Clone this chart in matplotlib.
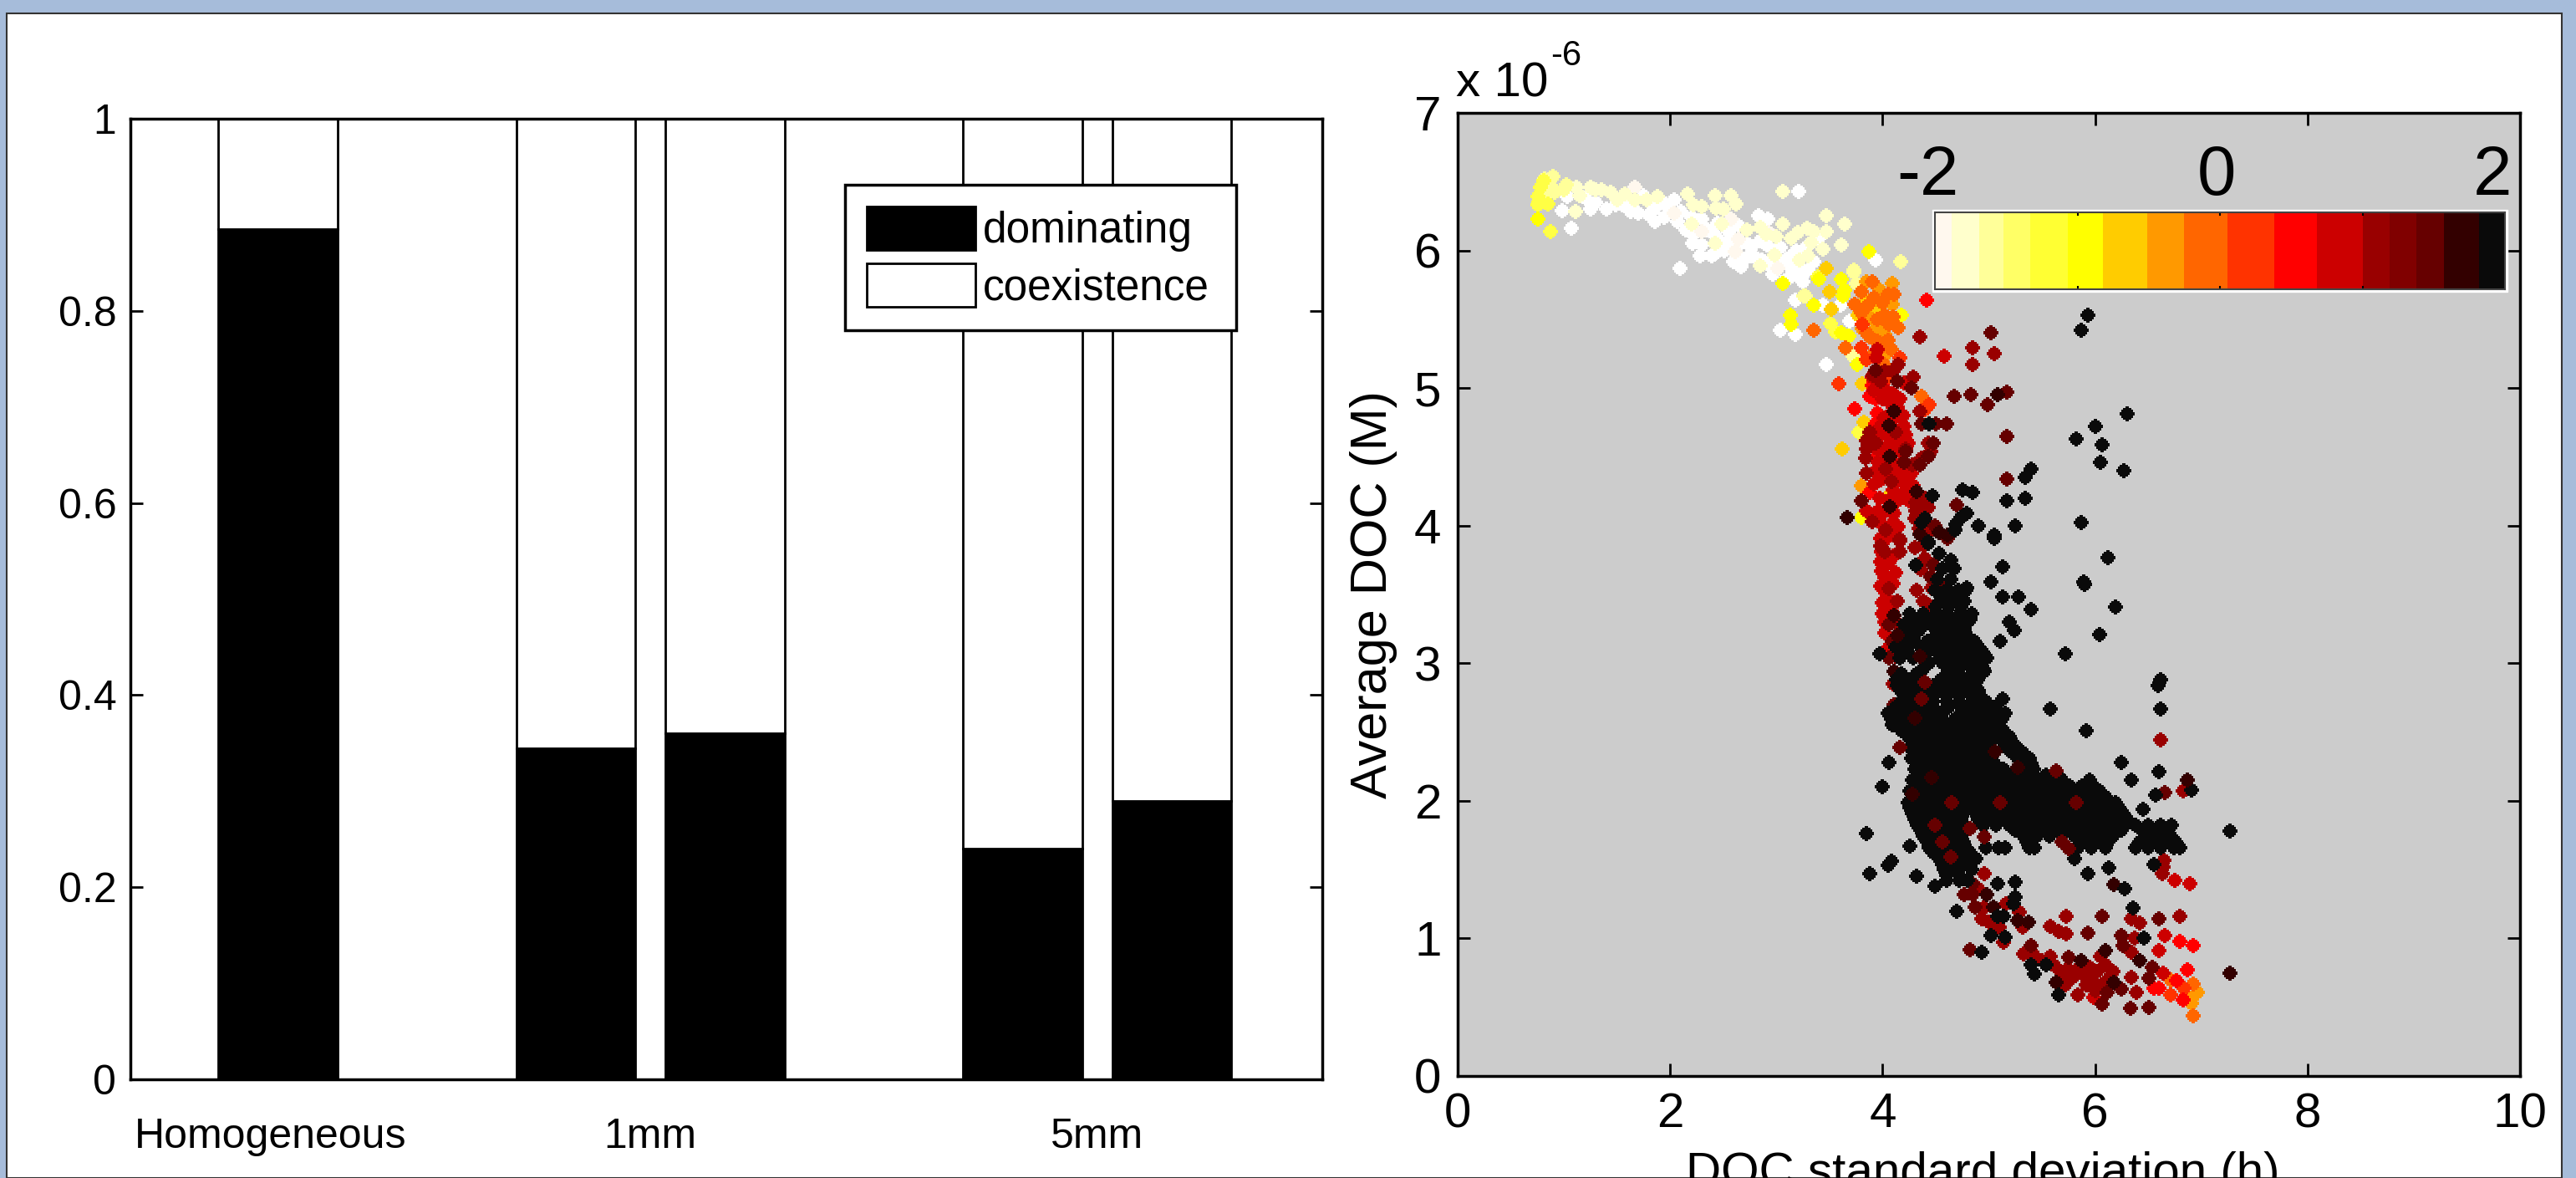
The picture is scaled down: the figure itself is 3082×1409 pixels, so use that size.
import numpy as np
import matplotlib
matplotlib.use("Agg")
import matplotlib.pyplot as plt
from matplotlib.colors import ListedColormap
from matplotlib.patches import Rectangle

# left panel
bar_x = [1, 3, 4, 6, 7]
dominating = [0.885, 0.345, 0.36, 0.24, 0.29]
coexistence = [0.115, 0.655, 0.64, 0.76, 0.71]
group_x = [0.95, 3.5, 6.5]
group_labels = ["Homogeneous", "1mm", "5mm"]
left_yticks = [0, 0.2, 0.4, 0.6, 0.8, 1]
left_yticklabels = ["0", "0.2", "0.4", "0.6", "0.8", "1"]

# colour scale
levels = [-2, -1.88, -1.69, -1.52, -1.33, -1.07, -0.82, -0.51, -0.25, 0.05, 0.38,
          0.68, 1, 1.19, 1.38, 1.57, 1.82, 2]
level_colors = ["#FFF8EE", "#FFFFCC", "#FFFF99", "#FFFF66", "#FFFF33", "#FFFF00", "#FFCC00",
                "#FF9900", "#FF6600", "#FF3300", "#FF0000", "#CC0000", "#990000", "#800000",
                "#660000", "#330000", "#0A0A0A"]

# scatter points (std dev, mean * 1e6), one list per colour
white_pts = [(3.21, 6.43), (.98, 6.29), (1.25, 6.30), (1.07, 6.16), (1.03, 6.39), (1.20, 6.38),
             (1.49, 6.33), (1.70, 6.27), (1.75, 6.40), (1.86, 6.21), (2.04, 6.37), (2.07, 6.21),
             (2.20, 6.24), (2.30, 6.23), (2.22, 6.12), (2.21, 6.05), (2.28, 5.96), (2.39, 5.96),
             (2.09, 5.87), (2.43, 6.10), (2.54, 6.06), (2.51, 6.0), (2.83, 6.25), (2.92, 6.23),
             (2.77, 6.03), (2.91, 6.04), (3.04, 6.02), (3.19, 6.0), (2.67, 5.88), (2.97, 5.83),
             (3.14, 5.87), (3.25, 5.83), (2.96, 5.93), (3.40, 6.09), (3.93, 5.93), (3.18, 5.64),
             (3.44, 5.60), (3.60, 5.60), (3.04, 5.42), (3.18, 5.39), (3.47, 5.17), (3.69, 5.49),
             (3.25, 5.77), (1.96, 6.34), (1.80, 6.26), (2.64, 6.18), (2.75, 5.96), (3.09, 5.93),
             (1.63, 6.28), (1.94, 6.24), (2.35, 6.15), (2.63, 6.03), (2.86, 5.93), (3.08, 5.78),
             (1.30, 6.35), (1.40, 6.30), (1.55, 6.33), (1.60, 6.37), (1.85, 6.30), (2.00, 6.30),
             (2.10, 6.28), (2.15, 6.15), (2.30, 6.04), (2.42, 5.98), (2.45, 6.20), (2.55, 6.14),
             (2.60, 5.92), (2.72, 5.95), (2.80, 5.95), (2.85, 6.07), (2.95, 5.88), (3.05, 5.90),
             (3.00, 5.95), (3.12, 5.95), (3.20, 5.88), (3.12, 5.80), (3.20, 5.82), (3.30, 5.86),
             (3.35, 5.92), (3.28, 6.02), (2.72, 6.05)]
offwhite_pts = [(1.67, 6.46), (2.04, 6.27), (2.30, 6.14), (2.57, 6.23), (2.64, 6.08), (2.93, 6.13),
                (3.01, 5.87), (2.61, 5.99)]
cream_pts = [(1.12, 6.46), (1.25, 6.46), (1.35, 6.44), (1.44, 6.42), (1.57, 6.41), (1.67, 6.37),
             (1.88, 6.39), (2.16, 6.41), (2.42, 6.40), (2.57, 6.40), (2.62, 6.34), (2.43, 6.31),
             (2.22, 6.33), (3.06, 6.43), (1.11, 6.28), (3.47, 6.25), (3.64, 6.19), (3.47, 6.14),
             (3.29, 6.16), (3.61, 6.04), (3.44, 6.01), (3.33, 6.06), (3.14, 6.09), (3.06, 6.19),
             (2.72, 6.15), (2.85, 6.17), (2.85, 5.89), (3.30, 5.96), (3.22, 5.93), (2.98, 5.97),
             (2.42, 6.05), (2.49, 6.19), (2.20, 6.19), (4.17, 5.92), (1.15, 6.40), (1.30, 6.44),
             (1.50, 6.37), (1.78, 6.37), (2.30, 6.32), (2.50, 6.30), (2.90, 6.12), (3.00, 6.10),
             (3.20, 6.13), (3.35, 6.14)]
pale_pts = [(.90, 6.54), (.82, 6.52), (.87, 6.47), (1.02, 6.48), (.91, 6.42), (3.73, 5.84),
            (3.72, 5.23), (3.27, 5.67), (3.73, 5.86), (3.75, 5.76), (3.26, 5.67), (4.17, 5.92),
            (1.00, 6.44), (.85, 6.42)]
soft_yellow_pts = [(.755, 6.39), (.76, 6.35), (.78, 6.46), (.81, 6.51), (.755, 6.33), (.87, 6.14),
                   (3.39, 5.81), (3.51, 5.47), (3.56, 5.41), (3.78, 4.68), (.85, 6.34)]
yellow_pts = [(.755, 6.23), (3.87, 5.99), (3.06, 5.76), (3.35, 5.60), (4.18, 5.53), (3.13, 5.53),
              (3.14, 5.46), (3.64, 5.71), (3.61, 5.79), (3.61, 5.40), (3.68, 5.38), (3.76, 5.17),
              (3.40, 5.79), (3.80, 4.06), (3.95, 5.62), (3.63, 5.67)]
amber_pts = [(3.47, 5.87), (3.50, 5.70), (3.52, 5.57), (3.84, 5.64), (3.77, 5.53), (3.93, 5.59),
             (3.81, 5.03), (3.82, 4.75), (3.62, 4.56), (4.03, 4.20)]
orange_pts = [(3.85, 5.77), (4.09, 5.76), (3.97, 5.71), (4.09, 5.61), (3.88, 5.51), (3.94, 5.44),
              (4.02, 5.39), (4.02, 5.24), (3.81, 5.43), (3.80, 4.29), (6.92, .58), (6.91, .53),
              (6.96, .61)]
dark_orange_pts = [(3.90, 5.77), (3.74, 5.61), (4.11, 5.68), (4.02, 5.53), (4.15, 5.44), (3.88, 5.37),
                   (4.05, 5.35), (3.65, 5.29), (3.35, 5.42), (4.37, 4.94), (4.01, 5.17), (3.95, 5.34),
                   (6.71, .70), (6.92, .67), (6.92, .44), (3.80, 5.70), (3.92, 5.66), (4.05, 5.68),
                   (3.86, 5.60), (4.00, 5.62), (3.80, 5.55), (3.95, 5.50), (4.06, 5.46), (3.85, 5.40),
                   (3.98, 5.30), (4.08, 5.28), (3.90, 5.24), (4.10, 5.52)]
red_orange_pts = [(3.81, 5.46), (3.80, 5.29), (3.85, 5.21), (4.44, 4.88), (3.59, 5.03), (4.06, 5.08),
                  (4.40, 4.84), (4.16, 5.22), (6.84, .64), (6.71, .59)]
red_pts = [(4.41, 5.64), (4.01, 5.00), (3.74, 4.85), (3.88, 4.94), (3.95, 4.82), (3.93, 4.74),
           (3.95, 4.50), (3.88, 4.24), (3.93, 4.92), (3.90, 5.02), (6.60, .64), (6.77, .69),
           (6.83, .55), (6.80, .98), (6.92, .95), (6.87, .77), (6.55, .64)]
crimson_pts = [(3.95, 5.28), (3.94, 5.22), (4.58, 5.23), (3.90, 5.08), (4.16, 4.92), (4.20, 5.04),
               (4.19, 4.80), (4.01, 4.78), (4.16, 4.70), (4.03, 4.66), (4.22, 4.66), (4.06, 4.58),
               (4.16, 4.54), (3.95, 4.56), (4.27, 4.38), (3.98, 4.33), (4.19, 4.32), (4.29, 4.29),
               (4.11, 4.09), (4.15, 3.99), (3.98, 3.91), (4.03, 4.38), (3.85, 4.11), (4.06, 4.46),
               (3.95, 4.64), (4.11, 4.62), (4.01, 3.89), (3.99, 3.81), (4.06, 3.73), (3.99, 3.67),
               (4.05, 3.59), (4.03, 3.51), (4.06, 3.45), (4.02, 3.22), (4.08, 4.88), (4.03, 4.98),
               (4.12, 4.79), (3.97, 4.20), (4.08, 4.20), (6.66, 1.02), (6.60, .91), (6.64, .75),
               (6.75, 1.42), (6.89, 1.40), (5.99, .57), (3.92, 4.98), (4.00, 4.92), (4.10, 4.96),
               (4.14, 4.86), (4.06, 4.80), (3.98, 4.72), (4.08, 4.70), (4.20, 4.72), (4.24, 4.60),
               (4.14, 4.60), (4.02, 4.54), (4.10, 4.46), (3.96, 4.46), (4.18, 4.44), (4.24, 4.38),
               (4.12, 4.36), (3.94, 4.40), (4.10, 4.26), (4.20, 4.24), (4.25, 4.18), (3.92, 4.30),
               (4.14, 4.18), (3.95, 4.10), (4.02, 4.10), (4.10, 4.02), (3.98, 4.02), (4.08, 3.94),
               (4.02, 3.80), (4.10, 3.78), (3.98, 3.74), (4.02, 3.62), (4.12, 3.66), (3.98, 3.56),
               (4.10, 3.58), (4.00, 3.44), (4.08, 3.38), (4.00, 3.36), (4.02, 3.30), (4.06, 3.12)]
dark_red_pts = [(4.15, 5.17), (4.35, 5.37), (4.85, 5.29), (5.05, 5.25), (4.85, 5.17), (3.85, 4.62),
                (4.29, 5.08), (3.91, 5.09), (3.85, 4.56), (3.84, 4.49), (4.43, 4.60), (4.45, 4.54),
                (4.22, 4.56), (4.03, 4.41), (3.85, 4.38), (4.12, 4.68), (4.28, 4.44), (3.93, 4.60),
                (4.08, 4.32), (3.90, 4.03), (4.31, 4.17), (4.31, 4.11), (4.03, 3.97), (3.98, 3.85),
                (4.16, 3.89), (4.43, 4.13), (4.35, 4.83), (4.37, 4.49), (4.16, 3.90), (4.02, 3.81),
                (4.16, 3.81), (4.40, 3.76), (4.32, 3.53), (4.06, 3.54), (4.14, 3.45), (6.62, 2.44),
                (4.96, 1.47), (5.73, 1.16), (6.34, 1.14), (6.42, 1.11), (6.80, 1.16), (6.65, 1.57),
                (6.64, 1.52), (6.63, 1.47), (6.83, 2.07), (5.58, 1.09), (5.66, 1.05), (5.73, 1.03),
                (6.37, 1.00), (6.34, .90), (6.34, .72), (6.05, .87), (6.10, .81), (6.17, .76),
                (5.95, .79), (5.58, .87), (5.69, .75), (5.79, .72), (5.90, .73), (5.96, .69),
                (5.84, .59), (6.39, .61), (5.33, .89), (5.29, 1.19), (4.93, 1.14), (5.16, 1.25),
                (5.14, .97), (5.06, 1.07), (4.02, 5.12), (3.98, 5.05), (4.10, 5.12), (3.88, 4.68),
                (4.36, 4.16), (4.40, 4.20), (4.30, 4.05), (4.34, 3.98), (4.44, 3.96), (4.30, 3.84),
                (4.38, 3.86), (4.36, 3.68), (4.46, 3.55), (4.44, 3.42), (4.38, 3.45), (4.12, 3.30),
                (4.12, 3.05), (4.10, 2.85), (4.90, 1.36), (4.95, 1.22), (5.00, 1.12), (5.10, 1.08),
                (5.32, 1.08), (5.42, .88), (5.50, .84), (5.62, .80), (5.74, .78), (5.84, .78),
                (5.92, .66), (6.02, .76), (6.14, .72), (6.00, .62), (6.06, .66), (5.72, .66)]
maroon_pts = [(5.02, 5.40), (4.67, 4.94), (4.83, 4.95), (5.17, 4.97), (4.99, 4.88), (5.17, 4.65),
              (5.17, 4.34), (4.60, 4.74), (4.50, 4.74), (4.37, 4.74), (4.48, 4.60), (4.70, 4.15),
              (3.80, 4.18), (4.49, 4.00), (4.35, 4.44), (4.43, 4.50), (4.27, 5.00), (4.14, 5.05),
              (3.93, 5.13), (4.20, 4.46), (4.22, 4.54), (4.61, 3.91), (4.48, 3.71), (4.45, 3.63),
              (4.53, 3.57), (4.06, 3.28), (4.09, 3.16), (4.06, 3.04), (4.16, 2.39), (4.11, 2.70),
              (4.82, .92), (6.07, 1.16), (6.60, 1.14), (6.66, 2.06), (5.93, 1.04), (6.25, 1.02),
              (6.26, .95), (6.54, .79), (6.51, .71), (5.75, .86), (6.07, .52), (6.11, .61),
              (6.25, .63), (6.33, .49), (6.51, .50), (5.40, .95), (4.85, 1.32), (4.77, 1.32),
              (4.87, 1.23), (4.85, 1.40)]
darkest_pts = [(5.08, 4.95), (4.06, 4.73), (4.11, 4.83), (4.07, 4.50), (3.67, 4.06), (4.32, 4.25),
               (4.07, 4.14), (4.61, 3.93), (4.35, 3.94), (4.53, 3.95), (4.11, 3.35), (4.11, 2.94),
               (6.18, 1.39), (6.87, 2.15), (6.42, .84), (6.10, .91), (5.87, .84), (5.63, .68),
               (6.18, .68), (5.37, 1.12), (5.27, 1.13), (4.98, 1.32), (5.04, 1.23), (7.27, .75)]
black_pts = [(5.93, 5.53), (5.87, 5.42), (6.30, 4.81), (6.00, 4.72), (5.82, 4.63), (6.07, 4.59),
             (6.05, 4.46), (6.27, 4.40), (5.87, 4.02), (6.12, 3.77), (5.89, 3.59), (4.75, 4.26),
             (4.85, 4.24), (4.47, 4.22), (5.17, 4.18), (5.34, 4.20), (5.34, 4.35), (5.40, 4.41),
             (4.74, 4.06), (4.79, 4.09), (4.69, 4.01), (4.68, 3.97), (4.90, 4.00), (5.05, 3.93),
             (5.25, 4.00), (4.40, 4.05), (4.37, 4.02), (4.43, 3.88), (4.44, 4.74), (5.05, 3.91),
             (5.13, 3.70), (5.02, 3.59), (5.90, 3.57), (5.13, 3.48), (5.28, 3.48), (5.40, 3.39),
             (6.19, 3.41), (5.19, 3.30), (5.24, 3.24), (5.11, 3.16), (6.04, 3.21), (5.72, 3.07),
             (3.97, 3.07), (5.13, 2.74), (5.575, 2.67), (5.92, 2.51), (4.96, 2.94), (4.79, 3.55),
             (4.64, 3.75), (4.31, 3.71), (4.43, 3.87), (4.53, 3.80), (6.62, 2.88), (6.59, 2.84),
             (6.62, 2.67), (4.06, 2.28), (4.00, 2.10), (3.85, 1.76), (4.26, 1.67), (4.08, 1.56),
             (4.05, 1.53), (3.88, 1.47), (4.32, 1.45), (4.49, 1.38), (5.08, 1.40), (5.25, 1.41),
             (5.25, 1.30), (5.23, 1.25), (4.70, 1.20), (5.08, 1.16), (5.14, 1.16), (5.02, 1.02),
             (5.15, 1.01), (4.93, .90), (5.40, .81), (5.54, .81), (5.43, .74), (5.66, .59),
             (5.81, 1.58), (5.93, 1.47), (6.13, 1.51), (6.28, 1.36), (6.36, 1.22), (6.25, 2.28),
             (6.60, 2.21), (6.34, 2.15), (6.57, 2.04), (6.91, 2.08), (6.45, 1.94), (7.27, 1.78),
             (6.55, 1.54), (6.46, 1.00)]

# the dense black band, read row by row: mean, then std devs
black_rows = [
    (3.69, [4.56, 4.67]),
    (3.61, [4.52, 4.64]),
    (3.53, [4.49, 4.60, 4.71, 4.78]),
    (3.49, [4.55, 4.66, 4.74]),
    (3.45, [4.54, 4.66, 4.77]),
    (3.41, [4.50, 4.62, 4.74]),
    (3.36, [4.26, 4.38, 4.50, 4.61, 4.73, 4.84]),
    (3.32, [4.27, 4.39, 4.51, 4.62, 4.73, 4.82]),
    (3.28, [4.20, 4.32, 4.45, 4.56, 4.67, 4.78]),
    (3.24, [4.22, 4.34, 4.56, 4.68, 4.77]),
    (3.20, [4.16, 4.28, 4.50, 4.62, 4.73, 4.79]),
    (3.16, [4.18, 4.30, 4.42, 4.54, 4.66, 4.78, 4.86]),
    (3.12, [4.12, 4.24, 4.36, 4.47, 4.59, 4.70, 4.82, 4.90]),
    (3.08, [4.20, 4.42, 4.53, 4.65, 4.77, 4.88, 4.94]),
    (3.04, [4.16, 4.29, 4.55, 4.66, 4.78, 4.90, 4.98]),
    (3.00, [4.44, 4.56, 4.68, 4.80, 4.92]),
    (2.96, [4.38, 4.62, 4.72, 4.84, 4.95]),
    (2.92, [4.18, 4.32, 4.60, 4.72, 4.84, 4.92]),
    (2.88, [4.13, 4.25, 4.55, 4.67, 4.78, 4.89]),
    (2.84, [4.14, 4.24, 4.36, 4.48, 4.60, 4.72, 4.84]),
    (2.80, [4.17, 4.30, 4.42, 4.54, 4.66, 4.78, 4.90]),
    (2.76, [4.22, 4.36, 4.48, 4.60, 4.72, 4.84, 4.92]),
    (2.72, [4.18, 4.31, 4.47, 4.60, 4.72, 4.84, 4.97]),
    (2.68, [4.12, 4.24, 4.36, 4.48, 4.62, 4.74, 4.86, 4.98, 5.06]),
    (2.635, [4.05, 4.17, 4.29, 4.41, 4.53, 4.75, 4.87, 4.99, 5.11, 5.15]),
    (2.595, [4.08, 4.20, 4.32, 4.44, 4.56, 4.68, 4.80, 4.92, 5.04, 5.12]),
    (2.555, [4.09, 4.23, 4.36, 4.48, 4.60, 4.72, 4.84, 4.96, 5.08]),
    (2.51, [4.18, 4.30, 4.42, 4.54, 4.66, 4.78, 4.90, 5.02, 5.14]),
    (2.47, [4.24, 4.36, 4.48, 4.60, 4.72, 4.84, 4.96, 5.08, 5.19]),
    (2.43, [4.30, 4.42, 4.54, 4.66, 4.78, 4.90, 5.02, 5.14, 5.22]),
    (2.39, [4.26, 4.38, 4.50, 4.62, 4.74, 4.86, 4.98, 5.16, 5.26]),
    (2.35, [4.32, 4.44, 4.56, 4.68, 4.80, 4.92, 5.22, 5.32]),
    (2.31, [4.27, 4.39, 4.51, 4.63, 4.75, 4.87, 4.99, 5.27, 5.38]),
    (2.27, [4.33, 4.45, 4.57, 4.69, 4.81, 4.93, 5.05, 5.33, 5.40]),
    (2.23, [4.30, 4.42, 4.54, 4.66, 4.78, 4.90, 5.02, 5.14, 5.38, 5.42]),
    (2.19, [4.34, 4.46, 4.58, 4.70, 4.82, 4.94, 5.06, 5.18, 5.30, 5.42, 5.54, 5.65]),
    (2.15, [4.28, 4.40, 4.52, 4.64, 4.76, 4.88, 5.00, 5.12, 5.24, 5.36, 5.48, 5.60, 5.69, 5.95]),
    (2.11, [4.32, 4.44, 4.56, 4.68, 4.80, 4.92, 5.04, 5.16, 5.28, 5.40, 5.52, 5.64, 5.76, 5.88,
            5.98]),
    (2.07, [4.26, 4.38, 4.50, 4.62, 4.74, 4.86, 4.98, 5.10, 5.22, 5.34, 5.46, 5.58, 5.70, 5.82,
            5.94, 6.04]),
    (2.03, [4.30, 4.42, 4.54, 4.66, 4.78, 4.90, 5.02, 5.14, 5.26, 5.38, 5.50, 5.62, 5.74, 5.86,
            5.98, 6.10]),
    (1.99, [4.24, 4.36, 4.48, 4.60, 4.72, 4.84, 4.96, 5.08, 5.20, 5.32, 5.44, 5.56, 5.68, 5.80,
            5.92, 6.04, 6.19]),
    (1.95, [4.26, 4.34, 4.46, 4.58, 4.70, 4.82, 4.94, 5.06, 5.18, 5.30, 5.42, 5.54, 5.66, 5.78,
            5.90, 6.02, 6.14, 6.22]),
    (1.905, [4.28, 4.40, 4.52, 4.64, 4.76, 4.88, 5.00, 5.12, 5.24, 5.36, 5.48, 5.60, 5.72, 5.84,
             5.96, 6.08, 6.20, 6.26]),
    (1.865, [4.30, 4.42, 4.54, 4.66, 4.74, 4.90, 5.02, 5.14, 5.26, 5.38, 5.50, 5.62, 5.74, 5.86,
             5.98, 6.10, 6.22, 6.30]),
    (1.825, [4.33, 4.45, 4.57, 4.69, 4.76, 4.95, 5.07, 5.19, 5.31, 5.43, 5.55, 5.67, 5.79, 5.91,
             6.03, 6.15, 6.27, 6.38, 6.50, 6.62, 6.72]),
    (1.785, [4.36, 4.48, 4.60, 4.72, 5.25, 5.38, 5.50, 5.62, 5.74, 5.86, 5.98, 6.10, 6.25, 6.44,
             6.56, 6.68]),
    (1.745, [4.38, 4.50, 4.62, 4.74, 5.33, 5.45, 5.57, 5.69, 5.81, 5.93, 6.05, 6.17, 6.48, 6.60,
             6.71]),
    (1.70, [4.42, 4.54, 4.66, 4.76, 5.36, 5.88, 6.00, 6.12, 6.42, 6.54, 6.66, 6.76]),
    (1.66, [4.44, 4.56, 4.68, 4.78, 4.97, 5.09, 5.15, 5.38, 5.43, 5.84, 5.96, 6.10, 6.38, 6.50,
            6.62, 6.74, 6.80]),
    (1.62, [4.48, 4.60, 4.72, 4.82]),
    (1.58, [4.53, 4.65, 4.77, 4.88]),
    (1.54, [4.56, 4.68, 4.80]),
    (1.50, [4.58, 4.70, 4.84]),
    (1.46, [4.60, 4.72]),
    (1.42, [4.60, 4.72, 4.80]),
]

# points that sit on top of the black band
over_maroon_pts = [(5.63, 2.22), (5.82, 1.99), (5.11, 1.99), (4.65, 1.99), (4.82, 1.80), (4.96, 1.74),
                   (4.49, 1.82), (5.69, 1.70), (5.75, 1.65), (4.56, 1.70), (4.64, 1.59), (4.40, 2.86),
                   (4.37, 2.74), (4.16, 2.39)]
over_darkest_pts = [(5.06, 2.36), (5.27, 2.24), (4.46, 2.17), (6.87, 2.15), (4.30, 2.60), (4.28, 2.05),
                    (4.14, 3.20), (4.35, 3.05)]

scatter_groups = [
    (white_pts, "#FFFFFF"), (offwhite_pts, "#FFF8EE"), (cream_pts, "#FFFFCC"), (pale_pts, "#FFFF99"),
    (soft_yellow_pts, "#FFFF44"), (yellow_pts, "#FFFF00"), (amber_pts, "#FFCC00"), (orange_pts, "#FF9900"),
    (dark_orange_pts, "#FF6600"), (red_orange_pts, "#FF3300"), (red_pts, "#FF0000"), (crimson_pts, "#CC0000"),
    (dark_red_pts, "#990000"), (maroon_pts, "#660000"), (darkest_pts, "#330000"), (black_pts, "#0A0A0A"),
]

W, H = 3082, 1409
plt.rcParams["font.family"] = ["Liberation Sans"]

# stepped diamond like the original markers, with short tips
quarter = [(1.5, 9), (1.5, 6.5), (4.5, 6.5), (4.5, 4.5), (6.5, 4.5), (6.5, 1.5), (9, 1.5)]
star = (quarter
        + [(a, -b) for a, b in reversed(quarter)]
        + [(-a, -b) for a, b in quarter]
        + [(-a, b) for a, b in reversed(quarter)])


def fx(px):
    return px / W


def fy(py):
    return 1 - py / H


def box(left, top, right, bottom):
    return [fx(left), fy(bottom), (right - left) / W, (bottom - top) / H]


fig = plt.figure(figsize=(W / 100, H / 100), dpi=100, facecolor="#A6BCDA")
fig.patches.append(Rectangle((fx(8), 0), fx(3065 - 8), fy(16), transform=fig.transFigure,
                             facecolor="white", edgecolor="#333333", lw=1.5, zorder=-1))

# bars
ax = fig.add_axes(box(156, 142, 1582, 1291))
ax.bar(bar_x, dominating, width=0.8, color="black", edgecolor="black", lw=2, label="dominating")
ax.bar(bar_x, coexistence, width=0.8, bottom=dominating, color="white", edgecolor="black", lw=2,
       label="coexistence")
ax.set_xlim(0.01, 8.01)
ax.set_ylim(0, 1)
ax.set_yticks(left_yticks)
ax.set_yticklabels(left_yticklabels, fontsize=36)
ax.set_xticks(group_x)
ax.set_xticklabels(group_labels, fontsize=36)
ax.tick_params(axis="x", length=0, pad=33)
ax.tick_params(axis="y", direction="in", length=11, width=2, right=True, pad=12)
for s in ax.spines.values():
    s.set_linewidth(2.5)
ax.legend(loc="center", bbox_to_anchor=(0.5996, 0.7815, 0.328, 0.148), frameon=True,
          fancybox=False, edgecolor="black", framealpha=1, handlelength=2.53, handleheight=1.17,
          labelspacing=0.27, handletextpad=0.18, borderaxespad=0, borderpad=0.5, mode="expand",
          fontsize=37)
ax.get_legend().get_frame().set_linewidth(2.5)

# scatter
ax2 = fig.add_axes(box(1744, 135, 3015, 1287), facecolor="#CCCCCC")


def dots(pts, color):
    xs = [p[0] for p in pts]
    ys = [p[1] for p in pts]
    ax2.scatter(xs, ys, s=168, marker=star, c=color, linewidths=0, antialiased=False)


for pts, color in scatter_groups:
    dots(pts, color)
dots([(x, row[0]) for row in black_rows for x in row[1]], "#0A0A0A")
dots(over_maroon_pts, "#660000")
dots(over_darkest_pts, "#330000")

ax2.set_xlim(0, 10)
ax2.set_ylim(0, 7)
ax2.set_xticks([0, 2, 4, 6, 8, 10])
ax2.set_yticks(range(8))
ax2.tick_params(direction="in", length=11, width=2, top=True, right=True, labelsize=42)
ax2.tick_params(axis="x", pad=14)
ax2.tick_params(axis="y", pad=14)
for s in ax2.spines.values():
    s.set_linewidth(2.5)

fig.text(fx(1742), fy(115), "x 10", fontsize=42, ha="left", va="baseline")
fig.text(fx(1855), fy(78), "-6", fontsize=30, ha="left", va="baseline")
fig.text(fx(1643), fy(711), "Average DOC (M)", fontsize=44, rotation=90, ha="center", va="center")
fig.text(fx(2372), fy(1419), "DOC standard deviation (h)", fontsize=42, ha="center", va="baseline")

# colour bar
fig.patches.append(Rectangle((fx(2312), fy(349)), 688 / W, 98 / H, transform=fig.transFigure,
                             facecolor="white", edgecolor="white", zorder=4))
cax = fig.add_axes(box(2315, 254, 2997, 346), zorder=5)
cax.pcolormesh(levels, [0, 1], np.arange(len(level_colors))[None, :],
               cmap=ListedColormap(level_colors), vmin=-0.5, vmax=len(level_colors) - 0.5)
cax.set_xlim(-2, 2)
cax.set_yticks([])
cax.set_xticks([-1, 0, 1])
cax.set_xticklabels([])
cax.tick_params(direction="in", length=3, width=1.5, top=True)
for s in cax.spines.values():
    s.set_linewidth(1.5)
    s.set_color("#444444")
for lab, px in zip(["-2", "0", "2"], [2306, 2652, 2982]):
    fig.text(fx(px), fy(233), lab, fontsize=60, ha="center", va="baseline", zorder=6)

fig.savefig("out.png", dpi=100, facecolor=fig.get_facecolor())
